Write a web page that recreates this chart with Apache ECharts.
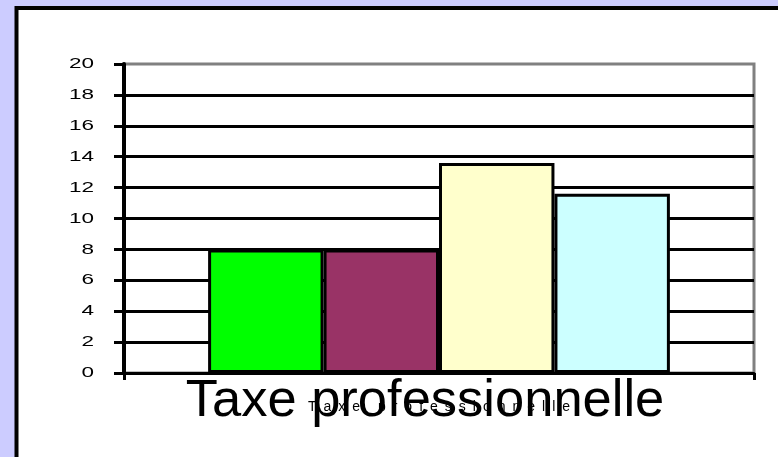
<!DOCTYPE html>
<html>
<head>
<meta charset="utf-8">
<script src="https://cdn.jsdelivr.net/npm/echarts@6/dist/echarts.min.js"></script>
<style>
  html, body { margin: 0; padding: 0; background: #CCCCFF; }
  #chart { width: 778px; height: 457px; }
</style>
</head>
<body>
<div id="chart"></div>
<script>
// Chart data
const categories = ['Taxe professionnelle'];
const seriesNames = ['Série 1', 'Série 2', 'Série 3', 'Série 4'];
const seriesValues = [[8], [8], [13.6], [11.6]];
const seriesColors = ['#00FF00', '#993366', '#FFFFCC', '#CCFFFF'];
const yTickLabels = ['0', '2', '4', '6', '8', '10', '12', '14', '16', '18', '20'];
const yTicks = { min: 0, max: 20, step: 2 };
const axisTitle = 'Taxe professionnelle';

const FONT = 'Arial, "Liberation Sans", sans-serif';
const GRID = { left: 124, right: 24, top: 64, bottom: 84 };

const chart = echarts.init(document.getElementById('chart'), null, { renderer: 'canvas' });

const series = seriesValues.map((vals, i) => ({
  name: seriesNames[i],
  type: 'bar',
  data: vals,
  barGap: 0,
  barCategoryGap: '26.7%',
  itemStyle: { color: seriesColors[i], borderColor: '#000', borderWidth: 3 },
  z: 3
}));

const panel = {
  type: 'rect',
  z: -10,
  shape: { x: 16.5, y: 8, width: 820, height: 500 },
  style: { fill: '#FFFFFF', stroke: '#000000', lineWidth: 4 }
};

chart.setOption({
  backgroundColor: '#CCCCFF',
  animation: false,
  graphic: [panel],
  title: {
    text: axisTitle,
    left: 420,
    top: 370,
    textAlign: 'center',
    textStyle: { fontFamily: FONT, fontSize: 52.5, fontWeight: 'normal', color: '#000' }
  },
  grid: Object.assign({}, GRID, {
    show: true, borderColor: '#808080', borderWidth: 3, backgroundColor: 'transparent'
  }),
  xAxis: {
    type: 'category',
    data: categories,
    axisLine: { lineStyle: { color: '#000', width: 3 } },
    axisTick: { show: true, length: 7, lineStyle: { color: '#000', width: 3 } },
    axisLabel: {
      margin: 27,
      fontFamily: FONT, fontSize: 14, color: '#000',
      // widely tracked category label
      formatter: v => v.split('').join('\u2002')
    }
  },
  yAxis: {
    type: 'value',
    min: yTicks.min, max: yTicks.max, interval: yTicks.step,
    axisLine: { show: true, lineStyle: { color: '#000', width: 4 } },
    axisTick: { show: true, length: 10, lineStyle: { color: '#000', width: 3 } },
    axisLabel: { show: false },
    splitLine: { show: true, showMaxLine: false, lineStyle: { color: '#000', width: 3 } }
  },
  series: series
});

// Horizontally stretched value labels, placed through the y axis scale
const labelRight = GRID.left - 30;
const yLabels = yTickLabels.map(t => ({
  type: 'text',
  x: labelRight,
  y: chart.convertToPixel({ yAxisIndex: 0 }, Number(t)),
  scaleX: 1.5,
  style: {
    text: t, x: 0, y: 0, align: 'right', verticalAlign: 'middle',
    fontFamily: FONT, fontSize: 15, fill: '#000'
  }
}));
chart.setOption({ graphic: [panel].concat(yLabels) }, { replaceMerge: ['graphic'] });
</script>
</body>
</html>
